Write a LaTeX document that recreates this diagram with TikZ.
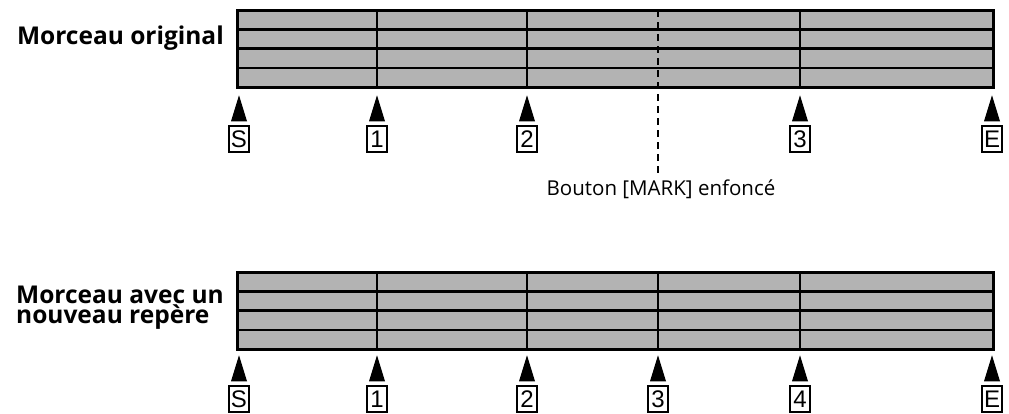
\documentclass[tikz,border=0pt]{standalone}
\usepackage{fontspec}
\setmainfont{Open Sans}
\newfontfamily\boxfont{Liberation Sans}
\definecolor{bargray}{HTML}{B3B3B3}
\tikzset{
  outerline/.style={line width=3pt},
  rowline/.style={line width=2.5pt},
  colline/.style={line width=1.6pt},
  markbox/.style={draw, line width=1.5pt, minimum width=20pt, minimum height=26pt, inner sep=0pt, font=\boxfont\fontsize{24}{24}\selectfont},
  tri/.style={fill=black},
  title/.style={font=\bfseries\fontsize{24.5}{21}\selectfont, align=left, inner sep=0pt},
  note/.style={font=\fontsize{20.5}{20}\selectfont, inner sep=0pt},
}
\newcommand{\drawtri}[1]{\fill[tri] ([yshift=4pt]#1.north) ++(-8pt,0) -- ++(16pt,0) -- ++(-8pt,26pt) -- cycle;}
\begin{document}
\begin{tikzpicture}[x=1pt,y=-1pt]
\useasboundingbox (0,0) rectangle (1009,413);
% ---------- top bar ----------
\fill[bargray] (237,10) rectangle (993,87.2);
\foreach \y in {29.3,48.6,67.9} \draw[rowline] (237,\y) -- (993,\y);
\foreach \x in {377,527,800} \draw[colline] (\x,10) -- (\x,87.2);
\draw[outerline] (237,10) rectangle (993,87.2);
\node[title, anchor=base east] (t1) at (224,44) {Morceau original};
% markers
\node[markbox] (ts) at (239,139) {S};
\node[markbox] (t1m) at (377,139) {1};
\node[markbox] (t2m) at (527,139) {2};
\node[markbox] (t3m) at (800,139) {3};
\node[markbox] (tem) at (992,139) {E};
\foreach \n in {ts,t1m,t2m,t3m,tem} {\drawtri{\n}}
% mark press
\coordinate (mtop) at (658,10);
\node[note, anchor=base] (mark) at (661,195) {Bouton [MARK] enfoncé};
\draw[line width=2.3pt, dash pattern=on 7pt off 5pt] (mtop) -- (658,173);
% ---------- bottom bar ----------
\fill[bargray] (237,272) rectangle (993,349);
\foreach \y in {291.25,310.5,329.75} \draw[rowline] (237,\y) -- (993,\y);
\foreach \x in {377,527,658,800} \draw[colline] (\x,272) -- (\x,349);
\draw[outerline] (237,272) rectangle (993,349);
\node[title, anchor=base east] (t2a) at (224,303) {Morceau avec un};
\node[title, anchor=base west] (t2b) at (t2a.base west |- 0,323) {nouveau repère};
\node[markbox] (bs) at (239,399) {S};
\node[markbox] (b1) at (377,399) {1};
\node[markbox] (b2) at (527,399) {2};
\node[markbox] (b3) at (658,399) {3};
\node[markbox] (b4) at (800,399) {4};
\node[markbox] (be) at (992,399) {E};
\foreach \n in {bs,b1,b2,b3,b4,be} {\drawtri{\n}}
\end{tikzpicture}
\end{document}
